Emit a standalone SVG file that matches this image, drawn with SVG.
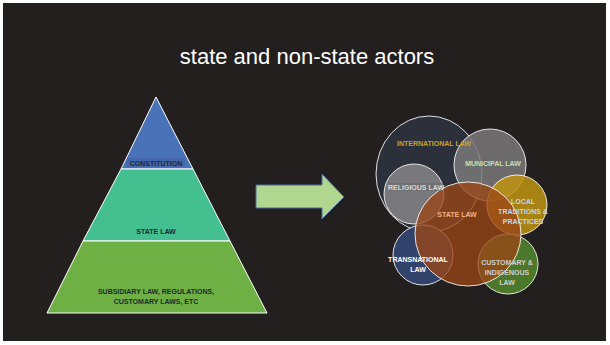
<svg xmlns="http://www.w3.org/2000/svg" width="610" height="345" viewBox="0 0 610 345">
<style>
.pl{font-family:"Liberation Sans","Open Sans",sans-serif;font-weight:bold;font-size:7px;fill:#1e2a33;text-anchor:middle}
.cl{font-family:"Liberation Sans","Open Sans",sans-serif;font-weight:bold;font-size:7px;text-anchor:middle}
.circ{stroke:#ffffff;stroke-width:1;stroke-opacity:0.85}
</style>
<rect x="0" y="0" width="610" height="345" fill="#ffffff"/>
<rect x="3" y="3" width="603" height="338" fill="#231f1e"/>
<text x="307" y="64" font-family="Liberation Sans, Open Sans, sans-serif" font-size="22" fill="#ffffff" text-anchor="middle">state and non-state actors</text>

<g id="pyramid-constitution">
<polygon points="156,97 193,169 121,169" fill="#4a72b8" stroke="#ffffff" stroke-width="1"/>
<rect x="127" y="158" width="58" height="9" fill="#4467ad"/>
<text class="pl" x="156" y="165.5">CONSTITUTION</text>
</g>
<g id="pyramid-state-law">
<polygon points="121,169 193,169 230,241 83,241" fill="#44bf8f" stroke="#ffffff" stroke-width="1"/>
<text class="pl" x="156" y="234">STATE LAW</text>
</g>
<g id="pyramid-subsidiary">
<polygon points="83,241 230,241 267,313 47,313" fill="#6fb044" stroke="#ffffff" stroke-width="1"/>
<text class="pl" x="156" y="294">SUBSIDIARY LAW, REGULATIONS,</text>
<text class="pl" x="156" y="304">CUSTOMARY LAWS, ETC</text>
</g>

<g id="connectors">
<polygon points="256,185 322,185 322,174 344,197 322,219 322,208 256,208" fill="#b0d68f" stroke="#4a6fa5" stroke-width="1"/>
</g>

<g id="circles">
<g id="international-law"><ellipse class="circ" cx="429" cy="174" rx="53" ry="58" fill="#2c323d" fill-opacity="0.95"/></g>
<g id="municipal-law"><circle class="circ" cx="490" cy="165" r="36" fill="#7a7879" fill-opacity="0.85"/></g>
<g id="religious-law"><circle class="circ" cx="414" cy="194" r="30" fill="#86858a" fill-opacity="0.85"/></g>
<g id="transnational-law"><circle class="circ" cx="423" cy="255" r="30" fill="#33466f" fill-opacity="0.95"/></g>
<g id="local-traditions"><circle class="circ" cx="517" cy="205" r="30" fill="#c09410" fill-opacity="0.85"/></g>
<g id="customary-law"><circle class="circ" cx="508" cy="264" r="30" fill="#4f7d2c" fill-opacity="0.95"/></g>
<g id="state-law"><ellipse class="circ" cx="468" cy="234" rx="53" ry="52" fill="#9a4716" fill-opacity="0.78"/></g>
</g>

<g id="labels">
<text class="cl" x="434" y="146" fill="#c9a227">INTERNATIONAL LAW</text>
<text class="cl" x="493" y="166" fill="#c5e0b4">MUNICIPAL LAW</text>
<rect x="389" y="183" width="54" height="8" fill="#6a6a6a" fill-opacity="0.6"/>
<text class="cl" x="416" y="190" fill="#d9d9d9">RELIGIOUS LAW</text>
<text class="cl" x="457" y="217" fill="#f4b183">STATE LAW</text>
<text class="cl" x="523" y="204" fill="#bdd7ee">LOCAL</text>
<text class="cl" x="523" y="214" fill="#bdd7ee">TRADITIONS &amp;</text>
<text class="cl" x="523" y="224" fill="#bdd7ee">PRACTICES</text>
<text class="cl" x="418" y="262" fill="#ffffff">TRANSNATIONAL</text>
<text class="cl" x="418" y="272" fill="#ffffff">LAW</text>
<text class="cl" x="507" y="265" fill="#d0cece">CUSTOMARY &amp;</text>
<text class="cl" x="507" y="275" fill="#d0cece">INDIGENOUS</text>
<text class="cl" x="507" y="285" fill="#d0cece">LAW</text>
</g>
</svg>
